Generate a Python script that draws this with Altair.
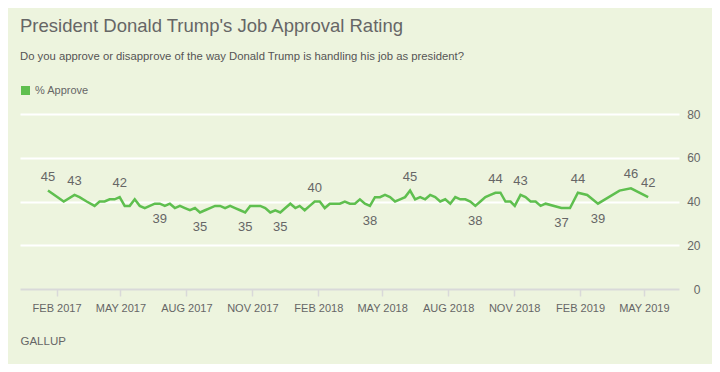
import altair as alt
import pandas as pd

dates = [
    "2017-01-20", "2017-02-11", "2017-02-26", "2017-03-05", "2017-03-15", "2017-03-26",
    "2017-04-02", "2017-04-09", "2017-04-16", "2017-04-23", "2017-04-30", "2017-05-07",
    "2017-05-14", "2017-05-21", "2017-05-28", "2017-06-04", "2017-06-11", "2017-06-18",
    "2017-06-25", "2017-07-02", "2017-07-09", "2017-07-16", "2017-07-23", "2017-07-30",
    "2017-08-06", "2017-08-13", "2017-08-20", "2017-08-27", "2017-09-03", "2017-09-10",
    "2017-09-17", "2017-09-24", "2017-10-01", "2017-10-08", "2017-10-15", "2017-10-22",
    "2017-10-29", "2017-11-05", "2017-11-12", "2017-11-19", "2017-11-26", "2017-12-03",
    "2017-12-10", "2017-12-17", "2017-12-24", "2017-12-31", "2018-01-06", "2018-01-13",
    "2018-01-20", "2018-01-27", "2018-02-03", "2018-02-10", "2018-02-17", "2018-02-24",
    "2018-03-03", "2018-03-10", "2018-03-17", "2018-03-24", "2018-03-31", "2018-04-07",
    "2018-04-14", "2018-04-21", "2018-04-28", "2018-05-05", "2018-05-12", "2018-05-19",
    "2018-05-26", "2018-06-02", "2018-06-09", "2018-06-16", "2018-06-23", "2018-06-30",
    "2018-07-07", "2018-07-14", "2018-07-21", "2018-07-28", "2018-08-04", "2018-08-11",
    "2018-08-18", "2018-08-25", "2018-09-01", "2018-09-08", "2018-09-15", "2018-09-22",
    "2018-09-29", "2018-10-06", "2018-10-13", "2018-10-20", "2018-10-27", "2018-11-02",
    "2018-11-10", "2018-11-17", "2018-11-24", "2018-12-01", "2018-12-08", "2018-12-15",
    "2019-01-06", "2019-01-18", "2019-01-29", "2019-02-11", "2019-02-26", "2019-03-28",
    "2019-04-13", "2019-05-07",
]
approve = [
    45, 40, 43, 42, 40, 38,
    40, 40, 41, 41, 42, 38,
    38, 41, 38, 37, 38, 39,
    39, 38, 39, 37, 38, 37,
    36, 37, 35, 36, 37, 38,
    38, 37, 38, 37, 36, 35,
    38, 38, 38, 37, 35, 36,
    35, 37, 39, 37, 38, 36,
    38, 40, 40, 37, 39, 39,
    39, 40, 39, 39, 41, 39,
    38, 42, 42, 43, 42, 40,
    41, 42, 45, 41, 42, 41,
    43, 42, 40, 41, 39, 42,
    41, 41, 40, 38, 40, 42,
    43, 44, 44, 40, 40, 38,
    43, 42, 40, 40, 38, 39,
    37, 37, 44, 43, 39, 45,
    46, 42,
]

# data labels: which points are annotated and on which side
label_dates = [
    "2017-01-20", "2017-02-26", "2017-04-30", "2017-06-25", "2017-08-20", "2017-10-22",
    "2017-12-10", "2018-01-27", "2018-04-14", "2018-06-09", "2018-09-08", "2018-10-06",
    "2018-11-10", "2019-01-06", "2019-01-29", "2019-02-26", "2019-04-13", "2019-05-07",
]
label_pos = [
    "above", "above", "above", "below", "below", "below",
    "below", "above", "below", "above", "below", "above",
    "above", "below", "above", "below", "above", "above",
]

GREEN = "#5fbf4f"
TEXT = "#666666"
FONT = "Liberation Sans"

pos_map = dict(zip(label_dates, label_pos))
df = pd.DataFrame({"date": dates, "approve": approve})
df["series"] = "% Approve"
df["pos"] = [pos_map.get(d, "") for d in dates]

tick_values = [
    alt.DateTime(year=y, month=m, date=1, utc=True)
    for (y, m) in [(2017, 2), (2017, 5), (2017, 8), (2017, 11), (2018, 2),
                   (2018, 5), (2018, 8), (2018, 11), (2019, 2), (2019, 5)]
]

x = alt.X(
    "date:T",
    scale=alt.Scale(
        type="utc",
        domain=[alt.DateTime(year=2016, month=12, date=12, utc=True),
                alt.DateTime(year=2019, month=6, date=19, utc=True)],
    ),
    axis=alt.Axis(
        values=tick_values,
        labelExpr="upper(utcFormat(datum.value, '%b %Y'))",
        grid=False,
        domainColor="#d9d9d9",
        domainWidth=2,
        tickColor="#d9d9d9",
        tickWidth=1.5,
        tickSize=7,
        labelColor=TEXT,
        labelFontSize=11,
        labelFont=FONT,
        labelPadding=6,
        title="GALLUP",
        titleAnchor="start",
        titleAlign="left",
        titleX=0,
        titleY=55,
        titleBaseline="alphabetic",
        titleFontSize=11.5,
        titleFontWeight="normal",
        titleColor=TEXT,
        titleFont=FONT,
    ),
)

y = alt.Y(
    "approve:Q",
    scale=alt.Scale(domain=[0, 80]),
    axis=alt.Axis(
        orient="right",
        values=[0, 20, 40, 60, 80],
        grid=True,
        gridColor={"condition": {"test": "datum.value === 0", "value": "transparent"}, "value": "white"},
        gridWidth=2,
        domain=False,
        ticks=False,
        tickSize=0,
        labelAlign="right",
        labelPadding=21,
        labelColor=TEXT,
        labelFontSize=12,
        labelFont=FONT,
        title=None,
    ),
)

line = alt.Chart(df).mark_line(strokeWidth=2.5, color=GREEN).encode(
    x=x,
    y=y,
    color=alt.Color(
        "series:N",
        scale=alt.Scale(range=[GREEN]),
        legend=alt.Legend(
            orient="none",
            legendX=0,
            legendY=-29,
            title=None,
            symbolType="square",
            symbolSize=81,
            symbolFillColor=GREEN,
            symbolStrokeColor=GREEN,
            symbolStrokeWidth=0,
            labelFontSize=11,
            labelColor=TEXT,
            labelFont=FONT,
        ),
    ),
)

above = alt.Chart(df).transform_filter("datum.pos == 'above'").mark_text(
    dy=-14, fontSize=13, color=TEXT, font=FONT, baseline="middle"
).encode(x="date:T", y="approve:Q", text="approve:Q")

below = alt.Chart(df).transform_filter("datum.pos == 'below'").mark_text(
    dy=15, fontSize=13, color=TEXT, font=FONT, baseline="middle"
).encode(x="date:T", y="approve:Q", text="approve:Q")

chart = (
    alt.layer(line, above, below)
    .properties(
        width=659,
        height=175,
        autosize=alt.AutoSizeParams(type="none"),
        padding={"left": 12, "top": 106, "right": 33, "bottom": 75},
        background="#edf4de",
        title=alt.TitleParams(
            text="President Donald Trump's Job Approval Rating",
            subtitle="Do you approve or disapprove of the way Donald Trump is handling his job as president?",
            anchor="start",
            frame="group",
            font=FONT,
            fontSize=18.5,
            fontWeight="normal",
            color=TEXT,
            subtitleFont=FONT,
            subtitleFontSize=11.3,
            subtitleColor="#555555",
            subtitlePadding=15,
            offset=23,
        ),
    )
    .configure_view(stroke=None)
)

chart.save("out.html", embed_options={"renderer": "svg", "actions": False})
